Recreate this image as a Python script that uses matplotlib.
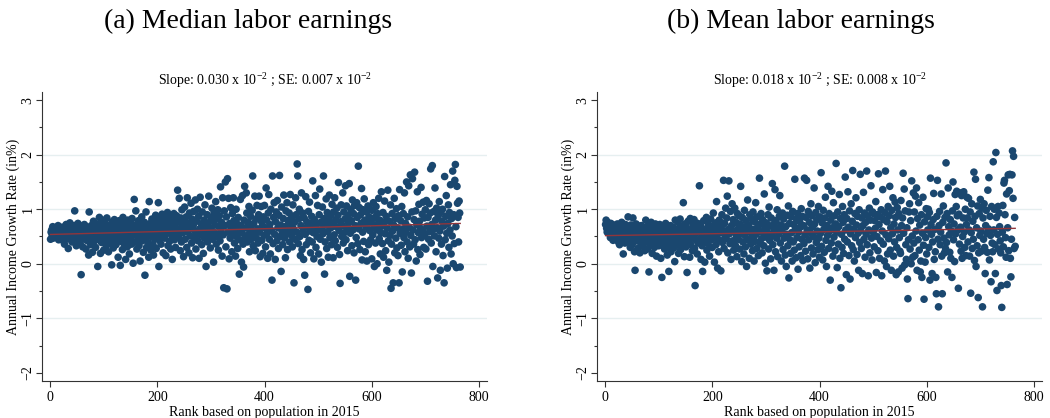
import numpy as np
import matplotlib
matplotlib.use("Agg")
import matplotlib.pyplot as plt
from matplotlib.ticker import MultipleLocator

plt.rcParams['font.family'] = ['Liberation Serif', 'DejaVu Serif']
plt.rcParams['mathtext.fontset'] = 'custom'
plt.rcParams['mathtext.rm'] = 'Liberation Serif'
plt.rcParams['mathtext.it'] = 'Liberation Serif:italic'

panel_titles = ["(a) Median labor earnings", "(b) Mean labor earnings"]
slope_texts = [r"Slope: 0.030 x 10$^{-2}$ ; SE: 0.007 x 10$^{-2}$",
               r"Slope: 0.018 x 10$^{-2}$ ; SE: 0.008 x 10$^{-2}$"]
x_label = "Rank based on population in 2015"
y_label = "Annual Income Growth Rate (in%)"
x_ticks = [0, 200, 400, 600, 800]
y_ticks = [-2, -1, 0, 1, 2, 3]

# Growth rates ordered by rank (rank = position + 1)
median_growth = [
0.45, 0.58, 0.62, 0.52, 0.68, 0.47, 0.55, 0.63, 0.50, 0.60, 0.66, 0.49, 0.57, 0.53, 0.70, 0.44, 0.61, 0.56, 0.51, 0.64, 0.48, 0.59, 0.67, 0.54, 0.42,
0.58, 0.36, 0.65, 0.50, 0.72, 0.46, 0.60, 0.55, 0.28, 0.63, 0.52, 0.75, 0.45, 0.57, 0.68, 0.40, 0.54, 0.61, 0.49, 0.70, 0.97, 0.47, 0.59, 0.33, 0.66,
0.52, 0.74, 0.43, 0.62, 0.56, 0.38, 0.69, -0.20, 0.48, 0.58, 0.31, 0.65, 0.51, 0.72, 0.45, 0.60, 0.27, 0.55, 0.67, 0.42, 0.58, 0.16, 0.95, 0.50, 0.63,
0.35, 0.70, 0.46, 0.21, 0.59, 0.78, 0.41, 0.54, 0.66, 0.30, 0.57, 0.49, 0.73, -0.05, 0.62, 0.44, 0.85, 0.52, 0.19, 0.68, 0.39, 0.58, 0.80, 0.47, 0.25,
0.61, 0.42, 0.74, 0.55, 0.33, 0.84, 0.50, 0.64, 0.22, 0.57, 0.70, 0.38, 0.60, 0.46, -0.02, 0.77, 0.53, 0.29, 0.66, 0.81, 0.44, 0.58, 0.35, 0.72, 0.51,
0.63, 0.12, 0.48, 0.79, 0.56, -0.03, 0.41, 0.69, 0.53, 0.26, 0.85, 0.60, 0.37, 0.74, 0.47, 0.08, 0.65, 0.55, 0.31, 0.80, 0.43, 0.68, 0.18, 0.58, 0.75,
0.49, 0.36, 0.83, 0.62, 0.01, 0.54, 1.18, 0.71, 0.40, 0.97, 0.57, 0.27, 0.66, 0.46, 0.79, 0.33, 0.60, 0.05, 0.73, 0.52, 0.86, 0.42, 0.64, 0.21, 0.55,
0.76, -0.21, 0.48, 0.95, 0.30, 0.61, 0.69, 0.39, 0.12, 1.14, 0.57, 0.74, 0.25, 0.50, 0.82, 0.64, 0.35, 0.16, 0.71, 0.45, 0.60, 0.89, 0.28, 0.53, 0.78,
0.67, 1.12, -0.05, 0.43, 0.84, 0.58, 0.36, 0.72, 0.91, 0.50, 0.20, 0.63, 0.80, 0.47, 0.87, 0.15, 0.69, 0.56, 0.94, 0.33, 0.75, 0.62, 0.41, 0.85, 0.27,
0.70, 0.52, 0.08, 0.81, 0.60, 0.92, 0.44, 0.73, 0.30, 0.66, 0.88, 0.55, 1.35, 0.77, 0.48, 1.20, 0.62, 0.24, 0.84, 0.40, 0.99, 0.71, 0.57, 0.13, 0.79,
1.04, 0.45, 0.68, 0.86, 0.30, 1.21, 0.59, 0.74, 0.20, 0.93, 0.51, 0.65, 1.11, 0.38, 0.82, 0.11, 0.70, 0.96, 0.48, 0.60, 1.17, 0.27, 0.78, 0.55, 1.00,
0.42, 0.87, 0.10, 0.64, 1.22, 0.53, 0.73, 0.35, 0.95, 0.61, 0.19, 0.80, 0.47, 1.08, 0.68, -0.05, 0.57, 0.90, 0.40, 0.75, 1.24, 0.52, 0.66, 0.29, 0.85,
0.62, 1.02, 0.45, 0.78, 0.03, 0.94, 0.57, 0.71, 1.14, 0.36, 0.83, 0.50, 0.99, 0.25, 0.68, 0.88, 0.42, 1.41, 0.60, 0.76, 0.14, 1.21, 0.53, -0.44, 0.97,
0.70, 1.50, 0.31, 0.86, -0.46, 1.56, 0.58, 1.20, 0.09, 0.74, 0.47, 1.03, 0.65, 0.22, 0.92, 0.55, 1.21, 0.79, 0.38, 0.67, 0.14, 1.00, 0.50, 0.73, 0.28,
0.85, 0.60, -0.19, 0.44, 1.18, 0.70, 0.03, 0.57, 1.25, 0.36, -0.06, 0.80, 1.42, 0.48, 0.66, 1.30, 0.93, 0.40, 0.76, 0.54, 1.05, 0.22, 0.69, 0.87, 0.45,
0.62, 0.98, 1.61, 0.33, 0.74, 0.55, 1.24, 0.24, 0.82, 0.47, 1.07, 0.64, 0.38, 0.90, 1.24, 0.58, 0.13, 0.79, 1.05, 0.43, 0.70, 0.19, 0.86, 0.52, 1.07,
0.66, 0.31, 1.39, 0.80, 0.56, 0.10, 0.93, 1.27, 0.45, 0.72, 0.18, 1.00, 0.61, -0.30, 1.61, 0.37, 0.85, 1.12, 0.54, 0.08, 0.77, 0.95, 0.42, 1.16, 0.66,
0.28, 0.89, 1.62, 0.50, 0.71, -0.14, 1.04, 0.59, 0.35, 0.83, 1.26, 0.47, 0.68, 0.11, 0.97, 0.55, 1.12, 0.26, 0.79, 0.62, 0.93, 0.40, 1.27, 0.73, 0.52,
0.86, 0.31, 1.08, 0.64, -0.35, 0.76, 0.45, 1.21, 0.90, 0.58, 1.83, 1.61, 0.37, 0.82, 1.00, 0.50, 0.15, 0.70, 1.30, 0.26, 0.93, 0.61, 0.08, 0.84, -0.21,
0.54, 1.23, 0.35, 0.77, 0.68, -0.47, 0.96, 0.43, 1.13, 0.60, 0.20, 0.74, 0.87, 0.40, 1.52, 0.57, 0.09, 0.81, 0.66, 1.25, 0.30, 0.72, 0.50, 1.07, 0.62,
0.18, 0.90, 1.37, 0.45, 0.76, 0.03, 0.63, 1.04, 0.55, 1.61, 0.83, -0.19, 0.40, 0.71, 1.19, 0.28, 0.94, 0.59, 0.12, 0.79, 1.26, 0.48, 0.88, 0.66, 0.35,
1.09, 0.74, 0.11, 0.95, 0.53, 1.21, 0.42, 0.81, 0.68, 1.02, 0.30, 0.89, 1.49, 0.61, 0.17, -0.36, 0.77, 1.08, 0.50, 0.70, 1.30, 0.38, 0.95, 0.57, 0.82,
1.43, 0.44, 1.06, 0.66, 0.24, 0.89, 0.75, 1.47, -0.23, 0.56, 1.00, 0.79, 0.33, 1.17, 0.62, 0.92, 0.20, 1.07, 0.70, -0.30, 0.48, 1.12, 0.85, 0.37, 1.79,
0.64, 1.03, 0.26, 0.90, 0.74, 1.38, 0.07, 0.58, 0.99, 0.41, 1.19, 0.80, 0.22, 0.68, 0.95, 0.05, 0.72, 1.06, 0.35, 0.86, 0.61, 1.00, 0.44, 0.77, 0.09,
0.98, 0.53, 1.12, 0.70, -0.05, 0.85, 0.38, 1.05, 0.62, 0.00, 0.92, 0.74, 1.20, 0.46, 0.80, 0.18, 0.57, 1.32, 0.69, 0.37, 0.94, 0.12, 0.76, 1.15, 0.55,
0.24, 0.87, -0.12, 0.65, 1.35, 0.42, 0.03, 0.78, 0.52, 1.08, -0.45, 0.36, 0.92, 0.60, -0.35, 0.71, 1.20, 0.20, 0.83, 0.47, 1.01, 0.29, 0.66, 0.15, 0.88,
-0.35, 1.36, 0.56, 0.79, 0.34, 1.05, -0.15, 0.63, 0.92, 0.48, 1.30, 0.22, 0.74, 0.58, 1.50, 0.40, 0.86, 0.10, 1.43, 0.67, 0.31, 1.63, 0.52, -0.17, 0.95,
1.56, 0.62, 0.36, 0.81, 1.68, 0.44, 0.97, 0.05, 0.72, 1.32, 0.26, 0.57, 1.09, 0.78, 0.17, 0.65, 1.40, 0.48, 0.91, 0.60, 1.13, 0.30, 0.84, 0.54, 0.99,
0.27, 1.16, 0.69, -0.32, 0.85, 0.45, 1.10, 0.59, 0.93, 1.74, 0.38, 0.72, 1.80, -0.05, 0.63, 0.96, 0.51, 1.39, 0.80, 0.22, 1.02, 0.66, -0.26, 0.88, 0.47,
1.14, 0.60, -0.12, 0.95, 0.36, 0.78, 1.00, 0.15, 0.69, -0.35, 1.60, 0.44, 0.87, 1.25, 0.56, -0.08, 0.74, 1.08, 0.30, 0.94, 0.62, 1.45, 0.18, 0.83, 0.51,
1.70, 0.00, 0.90, 0.37, 1.53, 1.82, 0.68, -0.07, 1.42, 1.11, 0.85, 0.40, 1.15, 0.93, -0.06,
]

mean_growth = [
0.72, 0.80, 0.65, 0.58, 0.76, 0.62, 0.70, 0.55, 0.68, 0.48, 0.74, 0.60, 0.52, 0.66, 0.43, 0.71, 0.57, 0.63, 0.50, 0.69, 0.45, 0.61, 0.73, 0.54, 0.40,
0.64, 0.35, 0.70, 0.52, 0.59, 0.76, 0.47, 0.66, 0.18, 0.56, 0.62, 0.38, 0.72, 0.50, 0.44, 0.68, 0.58, 0.86, 0.41, 0.63, 0.54, 0.30, 0.71, 0.48, 0.60,
0.36, 0.84, 0.55, 0.67, 0.22, -0.12, 0.51, 0.73, 0.42, 0.63, 0.28, 0.57, 0.69, 0.46, 0.20, 0.61, 0.37, 0.70, 0.52, 0.44, 0.32, 0.65, 0.58, 0.24, 0.49,
0.80, 0.40, 0.60, 0.27, 0.53, 0.71, -0.15, 0.45, 0.62, 0.35, 0.76, 0.50, 0.19, 0.58, 0.43, 0.67, 0.30, 0.54, 0.73, 0.39, 0.14, 0.61, 0.48, 0.68, 0.33,
0.56, 0.72, 0.42, 0.10, 0.62, -0.25, 0.51, 0.36, 0.68, 0.45, 0.27, 0.59, 0.74, 0.40, 0.53, 0.16, 0.65, 0.31, -0.14, 0.57, 0.47, 0.70, 0.22, 0.61, 0.38,
0.52, 0.67, 0.29, 0.44, 0.04, 0.80, 0.55, 0.34, 0.63, 0.48, 0.76, 0.19, 0.58, 0.41, 0.82, 0.26, 0.50, 0.69, 0.37, 0.60, 1.12, 0.45, 0.13, 0.73, 0.54,
0.31, 0.66, -0.16, 0.49, 0.78, 0.40, 0.59, 0.12, 0.83, 0.35, 0.62, 0.47, 0.24, 0.71, 0.52, 0.81, 0.28, -0.40, 0.56, 0.43, 0.65, 0.18, 0.74, 0.38, 0.60,
1.43, 0.46, 0.70, 0.08, 0.55, 0.33, -0.14, 0.63, 0.79, 0.42, 0.03, 0.58, 0.49, 0.85, 0.25, 0.66, 0.37, 0.72, 0.51, 0.14, 0.61, 0.82, 0.44, 0.57, 0.30,
0.68, 0.93, 0.47, 0.03, 0.59, 0.75, 0.35, 1.14, 0.53, -0.08, 0.64, 0.22, 0.80, 0.43, 0.57, -0.13, 0.70, 0.90, 0.39, 0.61, 1.53, 0.28, 0.74, 0.51, 1.02,
0.46, 0.84, 1.24, 0.20, 0.63, 1.52, 0.55, 0.37, 0.96, 0.08, 0.70, 1.10, 0.42, 0.81, 0.25, 0.59, 1.02, 0.34, 0.76, 0.51, 0.13, 0.92, 0.64, 0.45, 0.88,
0.27, 0.73, 1.42, 0.56, 0.04, 0.85, 0.40, 0.67, 0.18, 0.98, 0.52, 0.31, 0.79, -0.05, 0.61, 1.17, 0.44, 0.71, 0.10, 0.90, 0.58, 0.36, 0.83, 0.49, 0.24,
0.95, 0.63, 0.05, 0.77, 0.41, 1.12, 0.54, 0.28, 0.86, 0.68, 0.15, 0.60, 1.57, 0.38, 0.73, 0.92, 0.46, 0.20, 0.81, 0.57, 0.33, 1.28, 0.65, 0.01, 0.49,
0.75, -0.13, 0.58, 0.90, 0.27, 1.04, 0.43, 0.69, 0.09, 0.84, 0.52, 1.47, 0.35, 0.72, -0.12, 0.61, 1.36, 0.22, 0.79, 0.47, 0.99, 0.13, 0.66, 0.55, 0.87,
1.25, 0.38, 0.71, 0.05, 0.60, 0.93, 0.26, 0.82, 0.47, 1.79, 0.16, 0.68, -0.05, 0.54, 0.89, 0.33, 1.06, -0.26, 0.74, 0.44, 0.19, 0.86, 0.57, 0.05, 0.96,
0.40, 0.72, 0.25, 1.55, 0.63, 0.11, 0.82, 0.48, 0.92, -0.10, 0.58, 0.31, 0.78, 0.67, 0.15, 1.01, 0.45, 0.87, 0.06, 0.70, 0.37, 1.57, 0.53, 0.23, 0.85,
1.53, 0.62, 0.09, 0.96, 0.44, 0.76, -0.08, 0.57, 1.10, 0.29, 0.88, 0.68, 0.18, 0.50, 1.39, 0.73, 0.02, 0.94, 0.39, 0.81, 0.60, 0.26, 1.05, 0.47, 0.12,
0.86, 0.56, 1.67, 0.32, 0.75, 0.07, 0.98, 0.63, 0.21, 0.84, 1.22, 0.43, -0.05, 0.70, 0.52, 1.42, 0.28, 0.92, 0.60, -0.30, 0.80, 0.38, 1.33, 0.66, 0.14,
1.12, 0.49, 0.88, 0.24, 0.73, 1.84, 0.58, -0.07, 0.95, 0.36, 0.68, 1.27, 0.10, 0.83, -0.44, 0.54, 0.30, 1.05, 0.76, 0.19, 0.90, 0.45, 1.59, 0.62, -0.20,
0.83, 0.40, 1.32, 0.67, 0.15, 0.97, -0.28, 0.55, 1.10, 0.33, 0.78, 1.71, 0.26, 0.64, 0.05, 0.92, 0.48, 1.21, 0.71, 0.17, 0.87, 0.56, -0.12, 0.99, 0.39,
1.64, 0.61, 0.28, 0.84, -0.18, 0.70, 1.31, 0.45, 0.93, 0.12, 0.76, 0.54, 1.70, 0.35, 0.88, -0.22, 0.62, 1.02, 0.20, 0.80, 1.43, 0.47, 0.07, 0.95, 0.58,
0.92, 0.31, 0.79, 0.65, 1.14, -0.16, 0.50, 0.90, 0.24, 1.65, 0.72, 0.10, 0.86, 0.42, 0.99, -0.22, 0.60, 1.36, 0.36, 0.81, 0.05, 0.94, 1.70, 0.53, -0.05,
0.77, 0.18, 1.05, 0.46, 0.88, 1.42, 0.25, 0.66, -0.12, 0.98, 0.55, 1.21, 0.14, 0.73, 0.40, 1.13, 0.85, -0.20, 0.30, 1.03, 0.62, -0.15, 0.92, 0.48, 0.23,
0.19, 1.16, 0.70, -0.08, 0.84, 1.66, 0.56, 1.37, -0.02, 0.97, 0.35, 0.08, 0.66, -0.28, -0.64, 0.44, 0.95, 1.10, 0.27, 0.79, 0.00, 1.52, 0.51, 0.12, 1.30,
0.38, 0.95, 0.15, 1.24, 0.60, 1.39, -0.12, 0.83, 0.44, 1.12, 0.25, 0.71, -0.15, 0.05, 0.90, -0.25, 0.56, 1.22, 0.34, -0.65, 0.77, 0.03, 0.48, 1.01, 0.18,
0.86, 0.62, 1.00, 0.30, 0.94, -0.30, 1.57, 0.72, 0.54, -0.18, 0.40, 0.81, 1.29, 0.08, 0.63, 0.22, -0.25, -0.55, 0.87, 1.53, 0.45, -0.79, 0.70, 0.96, 0.35,
0.58, 1.28, 0.14, -0.55, 0.76, 1.06, 0.47, 0.20, 0.85, 0.28, 1.85, 0.39, 0.92, -0.15, 1.39, 0.68, 0.53, 0.21, 0.81, 0.10, 0.60, -0.25, 0.97, 1.50, 0.44,
0.73, 0.04, 1.27, 0.55, 1.05, 1.33, 0.88, 0.62, -0.45, 0.91, 0.36, 1.30, 0.67, 0.23, 1.25, 0.10, 0.50, 0.84, 1.32, 0.58, 0.30, 1.00, 0.15, 0.72, 1.22,
0.84, 0.40, 1.20, 0.62, 0.14, 0.95, -0.54, 0.57, 1.10, 0.28, 0.78, 0.45, 1.68, 0.06, 0.87, 1.55, -0.05, 0.66, 0.33, 1.06, -0.62, 0.20, 0.92, 0.52, 1.18,
0.60, 0.23, 1.02, -0.79, 0.84, 0.45, 1.10, 0.30, -0.18, 0.70, 0.98, 0.56, 0.21, 1.35, 0.64, 1.58, 0.07, 0.87, 0.52, -0.33, 1.05, 0.38, 0.22, 1.87, 0.62,
1.00, 0.35, -0.18, 2.04, 0.85, -0.49, 0.54, 1.05, 0.27, 0.93, 0.68, 0.42, 0.20, -0.40, -0.80, 0.58, 1.07, 0.31, 1.48, 1.53, 0.90, 0.48, 0.12, 1.28, -0.38,
0.66, 1.63, 0.24, 1.34, 1.64, 0.10, -0.24, 0.45, 1.63, 2.07, 1.20, 1.97, 0.28, 0.85, 0.32,
]

series = [median_growth, mean_growth]

NAVY = "#1a476f"
RED = "#90353b"
GRID = "#e6eff0"

fig = plt.figure(figsize=(10.5, 4.18), dpi=100)
lefts = [42 / 1050, 597 / 1050]
width = 445 / 1050
bottom = 1 - 381 / 418
height = (381 - 92) / 418
title_x = [248 / 1050, 801 / 1050]

for i in range(2):
    ax = fig.add_axes([lefts[i], bottom, width, height])
    y = np.array(series[i], dtype=float)
    x = np.arange(1, len(y) + 1)
    for yy in [-1, 0, 1, 2]:
        ax.axhline(yy, color=GRID, lw=1.0, zorder=0)
    ax.scatter(x, y, s=30, color=NAVY, edgecolors='none', zorder=2)
    b, a = np.polyfit(x, y, 1)
    xf = np.array([x.min(), x.max()])
    ax.plot(xf, a + b * xf, color=RED, lw=1.0, zorder=3)
    ax.set_xlim(-15, 815)
    ax.set_ylim(-2.15, 3.15)
    ax.set_xticks(x_ticks)
    ax.set_yticks(y_ticks)
    ax.yaxis.set_minor_locator(MultipleLocator(0.5))
    for s in ['top', 'right']:
        ax.spines[s].set_visible(False)
    for s in ['left', 'bottom']:
        ax.spines[s].set_linewidth(0.8)
        ax.spines[s].set_color('#333333')
    ax.tick_params(axis='both', which='major', length=4, width=0.8, labelsize=10, color='#333333')
    ax.tick_params(axis='y', which='major', pad=1.5)
    ax.tick_params(axis='y', which='minor', length=2.5, width=0.8, color='#333333')
    for lab in ax.get_yticklabels():
        lab.set_rotation(90)
        lab.set_va('center')
    ax.set_xlabel(x_label, fontsize=10, labelpad=1)
    ax.set_ylabel(y_label, fontsize=10, labelpad=1)
    ax.set_title(slope_texts[i], fontsize=10, pad=5)
    fig.text(title_x[i], 1 - 21 / 418, panel_titles[i], ha='center', va='center',
             fontsize=20, family=['Liberation Serif'])

fig.savefig("out.png", dpi=100)
